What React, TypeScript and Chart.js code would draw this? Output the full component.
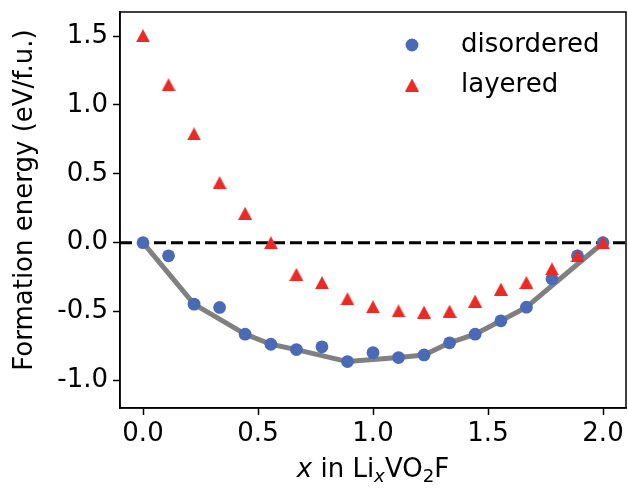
import React, { useEffect, useRef } from 'react';
import { Chart, registerables } from 'chart.js';

Chart.register(...registerables);

// ---- data ----
const xValues = [0, 0.111, 0.222, 0.333, 0.444, 0.556, 0.667, 0.778, 0.889, 1.0, 1.111, 1.222, 1.333, 1.444, 1.556, 1.667, 1.778, 1.889, 2.0];
const disordered = [0, -0.095, -0.446, -0.47, -0.664, -0.737, -0.776, -0.756, -0.863, -0.798, -0.834, -0.815, -0.727, -0.664, -0.567, -0.468, -0.262, -0.095, 0];
const layered = [1.503, 1.147, 0.79, 0.436, 0.213, 0, -0.23, -0.29, -0.407, -0.465, -0.495, -0.504, -0.497, -0.424, -0.337, -0.288, -0.19, -0.095, 0];
const hullIndices = [0, 2, 4, 5, 6, 8, 10, 11, 12, 13, 14, 15, 18];
const zeroLineX = [-0.1, 2.1];
const xTicks = [0, 0.5, 1.0, 1.5, 2.0];
const yTicks = [-1.0, -0.5, 0, 0.5, 1.0, 1.5];
const seriesLabels = ['disordered', 'layered'];
const yTitle = 'Formation energy (eV/f.u.)';

const BLUE = '#4a69b6';
const RED = '#ec2a25';
const FONT = 'DejaVu Sans';
const FS = 26;

function makeTriangle(color: string): HTMLCanvasElement {
  const c = document.createElement('canvas');
  c.width = 14;
  c.height = 13;
  const ctx = c.getContext('2d')!;
  ctx.fillStyle = color;
  ctx.beginPath();
  ctx.moveTo(0, 13);
  ctx.lineTo(7, 0);
  ctx.lineTo(14, 13);
  ctx.closePath();
  ctx.fill();
  return c;
}

const App = () => {
  const ref = useRef<HTMLCanvasElement>(null);
  useEffect(() => {
    document.body.style.margin = '0';
    const tri = makeTriangle(RED);

    const fixLayout = {
      id: 'fixLayout',
      afterLayout(chart: any) {
        const ca = chart.chartArea;
        const target = chart.width - 2;
        ca.right = target;
        ca.width = target - ca.left;
        const xs = chart.scales.x;
        xs.right = target;
        xs.width = target - xs.left;
        xs.configure();
      },
    };

    const decorPlugin = {
      id: 'decor',
      afterDatasetsDraw(chart: any) {
        const { ctx, chartArea } = chart;
        const { left, right, top, bottom } = chartArea;
        ctx.save();
        // frame
        ctx.strokeStyle = '#000';
        ctx.lineWidth = 1.5;
        ctx.strokeRect(left, top, right - left, bottom - top);

        // legend
        const lx = left + 292;
        const ly1 = top + 33;
        const ly2 = top + 73;
        ctx.fillStyle = BLUE;
        ctx.beginPath();
        ctx.arc(lx, ly1, 6.4, 0, Math.PI * 2);
        ctx.fill();
        ctx.drawImage(tri, lx - tri.width / 2, ly2 - tri.height / 2);
        ctx.fillStyle = '#000';
        ctx.font = `${FS}px "${FONT}"`;
        ctx.textAlign = 'left';
        ctx.textBaseline = 'middle';
        ctx.fillText(seriesLabels[0], lx + 49, ly1);
        ctx.fillText(seriesLabels[1], lx + 49, ly2);

        // y title
        ctx.save();
        ctx.translate(25, 200);
        ctx.rotate(-Math.PI / 2);
        ctx.textAlign = 'center';
        ctx.textBaseline = 'middle';
        ctx.font = `${FS}px "${FONT}"`;
        ctx.fillText(yTitle, 0, 0);
        ctx.restore();

        // x title: x in Li_x VO_2 F
        const sub = FS * 0.7;
        const parts = [
          { t: 'x', it: true, s: FS, dy: 0 },
          { t: ' in Li', it: false, s: FS, dy: 0 },
          { t: 'x', it: true, s: sub, dy: 5 },
          { t: 'VO', it: false, s: FS, dy: 0 },
          { t: '2', it: false, s: sub, dy: 5 },
          { t: 'F', it: false, s: FS, dy: 0 },
        ];
        let total = 0;
        const widths: number[] = [];
        for (const p of parts) {
          ctx.font = `${p.it ? 'italic ' : ''}${p.s}px "${FONT}"`;
          const w = ctx.measureText(p.t).width;
          widths.push(w);
          total += w;
        }
        let x = (left + right) / 2 - total / 2;
        const base = 477;
        ctx.textAlign = 'left';
        ctx.textBaseline = 'alphabetic';
        parts.forEach((p, i) => {
          ctx.font = `${p.it ? 'italic ' : ''}${p.s}px "${FONT}"`;
          ctx.fillText(p.t, x, base + p.dy);
          x += widths[i];
        });
        ctx.restore();
      },
    };

    const chart = new Chart(ref.current!, {
      type: 'scatter',
      data: {
        datasets: [
          {
            label: seriesLabels[1],
            data: xValues.map((x, i) => ({ x, y: layered[i] })),
            pointStyle: tri as any,
            pointRadius: 7,
            backgroundColor: RED,
            borderWidth: 0,
            order: 0,
          },
          {
            label: seriesLabels[0],
            data: xValues.map((x, i) => ({ x, y: disordered[i] })),
            pointStyle: 'circle',
            pointRadius: 6.4,
            backgroundColor: BLUE,
            borderWidth: 0,
            order: 1,
          },
          {
            type: 'line',
            label: 'hull',
            data: hullIndices.map((i) => ({ x: xValues[i], y: disordered[i] })),
            borderColor: '#808080',
            borderWidth: 5,
            borderJoinStyle: 'round',
            pointRadius: 0,
            order: 2,
          } as any,
          {
            type: 'line',
            label: 'zero',
            data: zeroLineX.map((x) => ({ x, y: 0 })),
            borderColor: '#000',
            borderWidth: 3,
            borderDash: [12, 5],
            pointRadius: 0,
            order: 3,
          } as any,
        ],
      },
      options: {
        animation: false,
        responsive: false,
        devicePixelRatio: 1,
        layout: { padding: { top: 12, right: 2, left: 0, bottom: 0 } },
        plugins: { legend: { display: false }, tooltip: { enabled: false } },
        scales: {
          x: {
            type: 'linear',
            min: -0.1,
            max: 2.1,
            afterBuildTicks: (s: any) => {
              s.ticks = xTicks.map((v) => ({ value: v }));
            },
            afterFit: (s: any) => {
              s.height = 80;
              s.paddingLeft = 0;
              s.paddingRight = 0;
            },
            ticks: {
              color: '#000',
              font: { family: FONT, size: FS },
              padding: 4,
              maxRotation: 0,
              autoSkip: false,
              callback: (v: any) => Number(v).toFixed(1),
            },
            grid: { drawOnChartArea: false, drawTicks: true, tickLength: 7, tickWidth: 1.5, tickColor: '#000' },
            border: { display: true, color: '#000', width: 1.5 },
          },
          y: {
            type: 'linear',
            min: -1.2,
            max: 1.675,
            afterBuildTicks: (s: any) => {
              s.ticks = yTicks.map((v) => ({ value: v }));
            },
            afterFit: (s: any) => {
              s.width = 120;
              s.paddingTop = 0;
              s.paddingBottom = 0;
            },
            ticks: {
              color: '#000',
              font: { family: FONT, size: FS },
              padding: 5,
              autoSkip: false,
              callback: (v: any) => Number(v).toFixed(1),
            },
            grid: { drawOnChartArea: false, drawTicks: true, tickLength: 7, tickWidth: 1.5, tickColor: '#000' },
            border: { display: true, color: '#000', width: 1.5 },
          },
        },
      },
      plugins: [fixLayout, decorPlugin],
    });
    return () => chart.destroy();
  }, []);
  return (
    <div style={{ width: 628, height: 488 }}>
      <canvas ref={ref} width={628} height={488} style={{ display: 'block' }} />
    </div>
  );
};

export default App;
